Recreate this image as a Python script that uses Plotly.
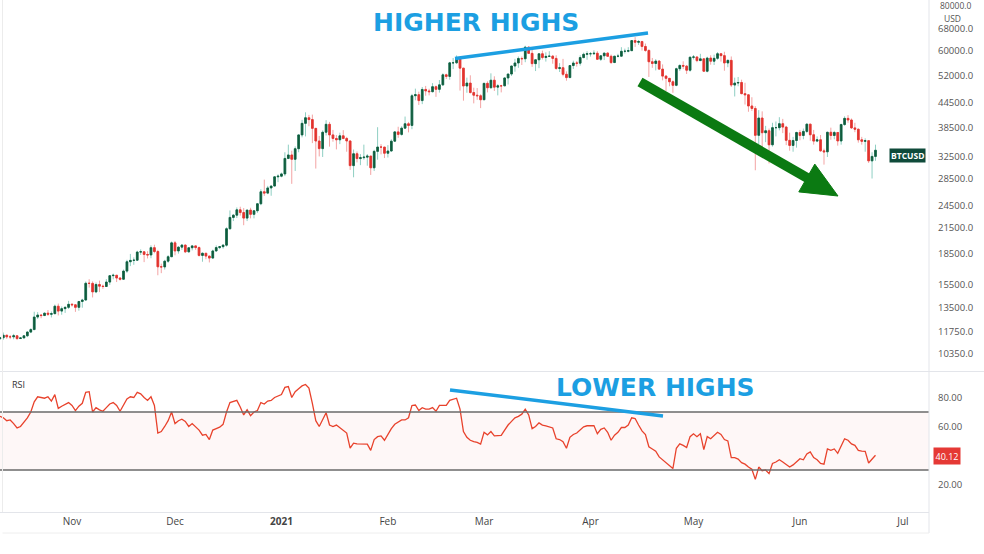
import pandas as pd
import plotly.graph_objects as go

# ---------------- DATA (BTCUSD daily, prices in thousands of USD) ----------------
start_date = "2020-10-11"
first_open = 11.30

close_k = [
    # Oct 11-31
    11.37, 11.54, 11.43, 11.43, 11.50, 11.32, 11.36, 11.50, 11.75, 11.92, 12.82, 12.97, 12.93, 13.11, 13.03, 13.07, 13.65, 13.27, 13.46, 13.56, 13.80,
    # Nov
    13.76, 13.56, 14.03, 14.15, 15.59, 15.58, 14.83, 15.48, 15.33, 15.30, 15.70, 16.29, 16.33, 16.07, 15.96, 16.73, 17.66, 17.80, 17.82, 18.68, 18.71, 18.42, 18.37, 19.16, 18.74, 17.15, 17.14, 17.72, 18.18, 19.70,
    # Dec
    18.80, 19.22, 19.45, 18.70, 19.15, 19.36, 19.17, 18.32, 18.55, 18.25, 18.04, 18.80, 19.17, 19.27, 19.44, 21.38, 22.83, 23.13, 23.86, 23.48, 22.74, 23.82, 23.24, 23.73, 24.71, 26.49, 26.28, 27.08, 27.38, 28.88, 28.99,
    # Jan
    29.37, 32.13, 32.78, 31.97, 33.99, 36.82, 39.37, 40.67, 40.24, 38.24, 35.54, 34.01, 37.39, 39.15, 36.82, 36.07, 35.79, 36.63, 36.07, 35.55, 30.82, 33.01, 32.10, 32.27, 32.37, 32.57, 30.43, 33.47, 34.32, 34.31, 33.11,
    # Feb
    33.54, 35.51, 37.47, 36.93, 38.29, 39.27, 38.90, 46.20, 46.48, 44.92, 47.91, 47.50, 47.29, 48.68, 47.94, 49.20, 52.15, 51.68, 55.89, 55.92, 57.49, 54.21, 48.88, 49.71, 47.06, 46.34, 46.19, 45.14,
    # Mar
    49.63, 48.38, 50.54, 48.56, 48.93, 48.92, 51.21, 52.39, 54.88, 55.85, 57.33, 57.23, 61.19, 59.05, 55.64, 56.90, 58.91, 57.65, 58.03, 58.10, 57.35, 54.10, 54.34, 52.30, 51.32, 55.03, 55.84, 55.78, 57.63, 58.73, 58.92,
    # Apr
    58.93, 59.09, 57.06, 58.22, 59.13, 58.06, 56.00, 58.09, 58.10, 59.77, 59.79, 59.98, 63.58, 62.97, 63.23, 61.46, 60.07, 56.25, 55.70, 56.47, 53.90, 51.76, 51.09, 50.10, 49.07, 54.02, 55.06, 54.84, 53.56, 57.75,
    # May
    57.83, 56.63, 57.21, 53.24, 57.47, 56.43, 57.38, 58.93, 58.28, 55.86, 56.70, 49.15, 49.72, 49.88, 46.76, 46.45, 43.54, 42.91, 36.73, 40.60, 37.29, 37.72, 34.77, 38.40, 38.40, 39.29, 38.53, 35.68, 34.64, 35.65, 37.34,
    # Jun 1-23
    36.69, 37.58, 39.19, 36.85, 35.52, 35.80, 33.57, 33.38, 37.39, 36.70, 37.34, 35.55, 39.10, 40.52, 40.14, 38.35, 38.05, 35.79, 35.48, 35.61, 31.68, 32.51, 33.69,
]

high_k = [
    11.43, 11.72, 11.55, 11.55, 11.63, 11.54, 11.40, 11.52, 11.82, 12.02, 13.22, 13.19, 13.03, 13.16, 13.35, 13.24, 13.78, 13.86, 13.63, 13.65, 14.08,
    13.90, 13.82, 14.07, 14.25, 15.75, 15.96, 15.76, 15.66, 15.83, 15.47, 15.97, 16.34, 16.49, 16.33, 16.15, 16.88, 17.86, 18.48, 18.11, 18.82, 18.97, 18.72, 18.77, 19.42, 19.49, 18.92, 17.47, 17.86, 18.35, 19.86,
    19.92, 19.31, 19.57, 19.52, 19.17, 19.42, 19.40, 19.29, 18.64, 18.56, 18.27, 18.94, 19.41, 19.35, 19.57, 21.56, 23.77, 23.29, 24.19, 24.29, 24.10, 23.84, 24.14, 23.79, 24.78, 26.87, 28.42, 27.41, 27.41, 28.99, 29.30,
    29.60, 33.30, 34.80, 33.60, 34.44, 36.94, 40.18, 41.97, 41.35, 41.42, 38.30, 36.60, 37.80, 40.10, 39.70, 37.90, 36.80, 37.30, 37.85, 36.40, 35.60, 33.83, 33.45, 32.94, 34.80, 32.95, 32.55, 33.78, 38.50, 34.90, 34.30,
    34.70, 35.90, 37.66, 38.60, 38.70, 40.95, 39.70, 46.70, 48.14, 47.30, 48.60, 48.90, 48.10, 49.70, 49.00, 50.60, 52.60, 52.50, 56.20, 57.50, 58.35, 57.50, 54.20, 51.30, 52.00, 48.40, 48.30, 46.60,
    49.80, 50.20, 52.60, 51.70, 49.40, 49.20, 51.40, 52.40, 54.90, 57.20, 58.00, 58.00, 61.70, 61.60, 60.60, 56.90, 58.95, 60.00, 59.40, 59.80, 58.50, 58.40, 55.80, 57.20, 53.20, 55.10, 56.60, 56.50, 58.40, 59.30, 59.80,
    59.50, 60.10, 59.80, 58.50, 59.25, 59.45, 58.65, 58.15, 58.90, 61.20, 60.70, 61.20, 63.75, 64.86, 63.80, 63.50, 62.50, 60.40, 57.50, 57.10, 56.80, 55.40, 52.10, 51.20, 50.50, 54.35, 55.40, 56.40, 55.20, 57.90,
    58.50, 57.95, 58.90, 57.20, 57.90, 58.40, 58.60, 59.50, 59.20, 59.60, 57.00, 58.00, 51.30, 51.50, 50.70, 49.80, 46.60, 45.80, 43.50, 42.50, 42.20, 38.80, 38.20, 39.50, 39.80, 40.80, 40.40, 38.80, 37.30, 36.40, 37.50,
    37.90, 38.20, 39.30, 39.20, 37.90, 36.50, 36.80, 34.00, 37.50, 38.40, 37.70, 37.40, 39.30, 41.00, 41.30, 40.50, 39.50, 38.20, 36.40, 36.10, 35.75, 33.30, 34.80,
]

low_k = [
    11.28, 11.24, 11.30, 11.28, 11.27, 11.22, 11.30, 11.34, 11.41, 11.68, 11.90, 12.68, 12.73, 12.90, 12.90, 12.79, 13.06, 12.94, 12.99, 13.13, 13.43,
    13.62, 13.21, 13.30, 13.53, 14.09, 15.20, 14.36, 14.72, 14.81, 15.09, 15.28, 15.44, 15.95, 15.70, 15.84, 15.89, 16.56, 17.22, 17.35, 17.76, 18.37, 17.62, 18.00, 18.02, 18.55, 16.33, 16.53, 16.88, 17.55, 18.18,
    18.33, 18.51, 18.92, 18.57, 18.64, 18.86, 18.92, 18.20, 17.66, 17.92, 17.59, 18.02, 18.72, 19.00, 19.05, 19.28, 21.26, 22.35, 22.75, 23.07, 21.82, 22.35, 22.70, 22.70, 23.44, 24.50, 25.86, 26.12, 25.88, 27.32, 28.00,
    28.80, 29.00, 32.00, 27.73, 29.88, 33.30, 36.30, 36.50, 38.72, 35.11, 30.30, 32.50, 32.40, 36.70, 34.40, 35.40, 33.85, 34.90, 35.90, 33.40, 30.07, 28.80, 31.40, 30.90, 31.90, 30.80, 29.20, 29.88, 31.90, 32.90, 32.20,
    32.30, 33.42, 35.40, 36.20, 36.65, 38.20, 37.36, 38.05, 45.00, 43.80, 44.00, 46.20, 46.30, 47.10, 45.90, 47.05, 48.90, 50.90, 50.70, 53.90, 55.50, 47.60, 44.90, 47.00, 46.80, 44.20, 45.10, 43.00,
    45.10, 47.10, 48.20, 47.50, 46.30, 47.10, 48.90, 49.30, 51.80, 53.10, 54.30, 55.20, 56.10, 59.00, 54.60, 53.30, 54.20, 57.00, 56.30, 57.85, 55.60, 53.70, 53.00, 51.70, 50.40, 51.30, 53.95, 54.70, 55.00, 57.40, 56.90,
    57.95, 58.50, 56.90, 56.50, 56.80, 57.90, 55.50, 55.80, 57.70, 57.90, 59.00, 59.40, 59.90, 61.30, 62.00, 60.00, 59.60, 51.50, 54.30, 53.50, 53.70, 50.50, 47.50, 48.80, 47.00, 48.80, 53.30, 53.90, 52.40, 53.10,
    57.00, 56.10, 56.50, 53.10, 52.90, 55.30, 55.20, 56.90, 56.30, 53.40, 54.50, 48.60, 46.00, 48.80, 46.60, 43.90, 42.10, 42.30, 30.00, 34.90, 33.50, 35.30, 31.20, 34.40, 36.50, 37.80, 37.20, 34.70, 33.60, 33.40, 34.20,
    35.70, 35.90, 37.20, 35.60, 34.80, 35.30, 33.40, 31.00, 32.40, 35.80, 35.90, 34.60, 34.80, 38.80, 39.50, 38.10, 37.40, 35.20, 34.80, 33.40, 31.30, 28.60, 31.70,
]

rsi = [
    67, 66, 64, 64.5, 62, 59, 60, 63, 66, 70, 77, 80.5, 80, 79.5, 80.5, 77.5, 82, 72.5, 74, 75.5, 76.5,
    74.5, 71, 74, 76, 83.5, 84, 70, 73, 71.5, 70.5, 73, 75.5, 76.5, 74.5, 70.5, 74.5, 79, 80.5, 80, 83.5, 82.5, 80, 78, 80.5, 74.5, 55.5, 56.5, 60, 64, 70,
    62, 64, 65, 63.5, 60, 62, 60, 57.5, 54, 54.5, 51, 57.5, 58.5, 59.5, 61.5, 70, 76.5, 77.5, 78, 73.5, 68, 71.5, 67.5, 70, 71, 76.5, 75.5, 77.5, 78, 80, 81,
    82, 87, 87.5, 80, 84, 86, 88, 89, 86.5, 76, 64, 60, 65, 69.5, 61, 60, 61, 59, 57, 55.5, 45, 48.5, 48, 48, 47.8, 47.8, 43.5, 51, 53, 53.5, 50.5,
    55, 58.5, 61.5, 63, 64.5, 64.5, 66, 74.5, 74.8, 71, 73, 72, 72, 73, 70.5, 74.5, 74.5, 74.5, 78, 79, 79.5, 72, 56.5, 52.5, 50.5, 49.5, 49, 47.8,
    56, 54.2, 56.5, 53.5, 53.5, 53.8, 57.5, 61, 63.5, 66, 67, 68.5, 72, 68, 58.5, 60, 62.5, 61, 60.5, 60, 59, 51.5, 51, 49.5, 45, 52.5, 54.5, 55.5, 58, 59.8, 60.5,
    60.6, 60.6, 55, 58, 59, 56, 50.5, 54, 56, 59.3, 59.3, 61, 66, 65.5, 61, 57, 54.5, 46, 44.5, 43, 39, 37, 35, 33, 31, 45, 48, 47, 45.5, 53,
    55, 53, 55, 44, 53, 51.5, 53.5, 56, 54.5, 51, 50, 38.5, 38.5, 37.5, 35, 34, 32, 30.5, 23.5, 32, 29.5, 30, 27.5, 34.5, 35.5, 37, 35.5, 33.5, 32, 33.5, 36,
    37.8, 37, 41, 42.5, 38.5, 37, 34.5, 34, 44.5, 43.5, 44.5, 41.5, 46.5, 51.5, 50.5, 48, 47, 43.5, 43, 42.8, 34.8, 37.5, 40.12,
]

month_ticks = ["2020-11-01", "2020-12-01", "2021-01-01", "2021-02-01", "2021-03-01",
               "2021-04-01", "2021-05-01", "2021-06-01", "2021-07-01"]
month_labels = ["Nov", "Dec", "<b>2021</b>", "Feb", "Mar", "Apr", "May", "Jun", "Jul"]

price_ticks = [10350, 11750, 13500, 15500, 18500, 21500, 24500, 28500, 32500,
               38500, 44500, 52000, 60000, 68000]
price_top_label = 80000
rsi_ticks = [20, 60, 80]

# ---------------- derived series ----------------
n = min(len(close_k), len(high_k), len(low_k), len(rsi))
dates = pd.date_range(start_date, periods=n, freq="D")
closes = [c * 1000 for c in close_k[:n]]
highs = [h * 1000 for h in high_k[:n]]
lows = [l * 1000 for l in low_k[:n]]
opens = [first_open * 1000] + closes[:-1]
body_hi = [max(o, c) for o, c in zip(opens, closes)]
body_lo = [min(o, c) for o, c in zip(opens, closes)]

# ---------------- style ----------------
W, H = 984, 554
ML, MR, MT, MB = 0, 55, 0, 42
PW, PH = W - ML - MR, H - MT - MB
def px(x):
    return (x - ML) / PW
def py(y):
    return 1 - (y - MT) / PH

WICK_UP, WICK_DN = "#8fcfc3", "#f3a3a3"
BODY_UP, BODY_DN = "#0f5c3c", "#e2342e"
RSI_COLOR = "#e8422c"
BLUE = "#1c9fe2"
GREEN = "#0b7a12"
GRID = "#e3e5ea"
TXT = "#555555"
FONT = "Open Sans"
TITLE_FONT = "DejaVu Sans"

x_range = ["2020-10-11 00:45", "2021-07-08 14:00"]

fig = go.Figure()
fig.add_trace(go.Candlestick(
    x=dates, open=opens, high=highs, low=lows, close=closes,
    increasing=dict(line=dict(color=WICK_UP, width=1), fillcolor=WICK_UP),
    decreasing=dict(line=dict(color=WICK_DN, width=1), fillcolor=WICK_DN),
    whiskerwidth=0, xaxis="x", yaxis="y", hoverinfo="skip", showlegend=False))
fig.add_trace(go.Candlestick(
    x=dates, open=opens, high=body_hi, low=body_lo, close=closes,
    increasing=dict(line=dict(color=BODY_UP, width=0.8), fillcolor=BODY_UP),
    decreasing=dict(line=dict(color=BODY_DN, width=0.8), fillcolor=BODY_DN),
    whiskerwidth=0, xaxis="x", yaxis="y", hoverinfo="skip", showlegend=False))
fig.add_trace(go.Scatter(
    x=dates, y=rsi[:n], mode="lines", line=dict(color=RSI_COLOR, width=1.3),
    xaxis="x2", yaxis="y2", hoverinfo="skip", showlegend=False))

price_domain = [py(371), 1]
rsi_domain = [0, py(373)]

fig.update_layout(
    width=W, height=H,
    margin=dict(l=ML, r=MR, t=MT, b=MB),
    paper_bgcolor="white", plot_bgcolor="white",
    font=dict(family=FONT, color=TXT, size=10),
    showlegend=False,
    xaxis=dict(domain=[0, 1], anchor="y", range=x_range, type="date",
               showticklabels=False, showgrid=False, zeroline=False,
               rangeslider=dict(visible=False), ticks=""),
    xaxis2=dict(domain=[0, 1], anchor="y2", range=x_range, type="date",
                tickvals=month_ticks, ticktext=month_labels,
                tickfont=dict(size=10, color="#444444", family=FONT),
                showgrid=False, zeroline=False, ticks="",
                showline=True, linecolor=GRID, linewidth=1),
    yaxis=dict(domain=price_domain, anchor="x", type="log",
               range=[3.97213, 4.90547], side="right",
               tickvals=price_ticks, ticktext=[f"{v:.1f}" for v in price_ticks],
               tickfont=dict(size=9.5, color=TXT, family=FONT),
               ticklabelstandoff=8, ticks="", showgrid=False, zeroline=False),
    yaxis2=dict(domain=rsi_domain, anchor="x2", range=[1.0, 96.9], side="right",
                tickvals=rsi_ticks, ticktext=[f"{v:.2f}" for v in rsi_ticks],
                tickfont=dict(size=9.5, color=TXT, family=FONT),
                ticklabelstandoff=8, ticks="", showgrid=False, zeroline=False),
)

shapes = []
# RSI band and bounds
shapes.append(dict(type="rect", xref="paper", yref="y2", x0=0, x1=1, y0=30, y1=70,
                   fillcolor="rgba(240,80,80,0.045)", line=dict(width=0), layer="below"))
for lvl in (70, 30):
    shapes.append(dict(type="line", xref="paper", yref="y2", x0=0, x1=1, y0=lvl, y1=lvl,
                       line=dict(color="#6a6a6a", width=1.6)))
# pane separators / frame
shapes.append(dict(type="line", xref="paper", yref="paper", x0=0, x1=px(984), y0=py(371.5), y1=py(371.5),
                   line=dict(color=GRID, width=1)))
shapes.append(dict(type="line", xref="paper", yref="paper", x0=1, x1=1, y0=py(533), y1=py(0),
                   line=dict(color=GRID, width=1)))
shapes.append(dict(type="line", xref="paper", yref="paper", x0=px(2.5), x1=px(2.5), y0=py(512), y1=py(0),
                   line=dict(color="#ececec", width=1)))
shapes.append(dict(type="line", xref="paper", yref="paper", x0=px(2.5), x1=1, y0=py(533), y1=py(533),
                   line=dict(color="#eeeeee", width=1)))
# blue trend lines
shapes.append(dict(type="line", xref="paper", yref="paper", x0=px(455), y0=py(58.5), x1=px(648), y1=py(33),
                   line=dict(color=BLUE, width=3.5)))
shapes.append(dict(type="line", xref="paper", yref="paper", x0=px(450), y0=py(390), x1=px(663), y1=py(416),
                   line=dict(color=BLUE, width=3.5)))
# green arrow (shaft + head)
shapes.append(dict(type="line", xref="paper", yref="paper", x0=px(640), y0=py(82), x1=px(810), y1=py(179.5),
                   line=dict(color=GREEN, width=10)))
head = [(838, 196), (798.8, 191.9), (814.8, 164.1)]
path = "M {} {} L {} {} L {} {} Z".format(*[v for p in head for v in (px(p[0]), py(p[1]))])
shapes.append(dict(type="path", xref="paper", yref="paper", path=path,
                   fillcolor=GREEN, line=dict(color=GREEN, width=1)))
fig.update_layout(shapes=shapes)

annotations = [
    dict(text="HIGHER HIGHS", x=px(476), y=py(22), xref="paper", yref="paper", showarrow=False,
         font=dict(family=TITLE_FONT, size=25, color=BLUE, weight=700), xanchor="center", yanchor="middle"),
    dict(text="LOWER HIGHS", x=px(655), y=py(387), xref="paper", yref="paper", showarrow=False,
         font=dict(family=TITLE_FONT, size=25, color=BLUE, weight=700), xanchor="center", yanchor="middle"),
    dict(text="RSI", x=px(10), y=py(384), xref="paper", yref="paper", showarrow=False,
         font=dict(family=FONT, size=9, color="#333333"), xanchor="left", yanchor="middle"),
    dict(text=f"{price_top_label:.1f}", x=px(938), y=py(5.5), xref="paper", yref="paper", showarrow=False,
         font=dict(family=FONT, size=8.5, color=TXT), xanchor="left", yanchor="middle"),
    dict(text="USD", x=px(953), y=py(18), xref="paper", yref="paper", showarrow=False,
         font=dict(family=FONT, size=8.5, color=TXT), xanchor="center", yanchor="middle"),
    dict(text="<b>BTCUSD</b>", x=px(907), y=py(155.5), xref="paper", yref="paper", showarrow=False,
         font=dict(family=FONT, size=8.5, color="white"), bgcolor="#0f4a3a", borderpad=1,
         xanchor="center", yanchor="middle"),
    dict(text="40.12", x=px(947), y=py(456), xref="paper", yref="paper", showarrow=False,
         font=dict(family=FONT, size=9, color="white"), bgcolor="#e53935", borderpad=1.5,
         xanchor="center", yanchor="middle"),
]
fig.update_layout(annotations=annotations)

fig.write_html("out.html")
